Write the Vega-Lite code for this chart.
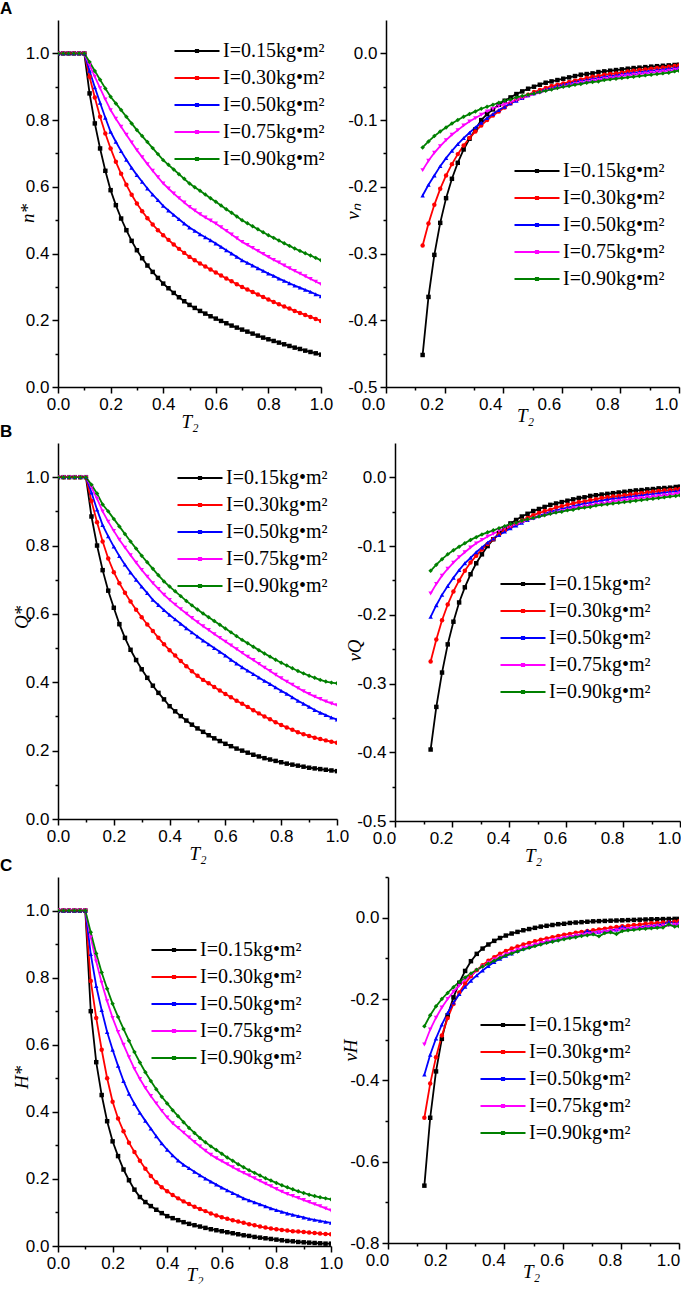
{
"$schema":"https://vega.github.io/schema/vega-lite/v6.json",
"padding":0,
"background":"white",
"spacing":-8,
"resolve":{"scale":{"color":"independent"},"legend":{"color":"independent"}},
"config":{
 "view":{"stroke":null},
 "axis":{"domainColor":"black","domainWidth":1.5,"tickColor":"black","tickWidth":1.5,"grid":false,"labelFont":"Liberation Sans","labelFontSize":17,"labelColor":"black","labelPadding":3,"labelFlush":false,"labelOverlap":false,"titleFont":"Liberation Serif","titleFontStyle":"italic","titleFontWeight":"normal","titleFontSize":19,"titleColor":"black"},
 "axisY":{"titleBaseline":"middle"},
 "title":{"anchor":"start","frame":"group","font":"Liberation Sans","fontSize":17,"fontWeight":"bold","color":"black","offset":2},
 "legend":{"orient":"none","labelFont":"Liberation Serif","labelFontSize":20,"labelColor":"black","symbolSize":324,"symbolStrokeWidth":2,"labelOffset":16,"rowPadding":7,"padding":0}
},
"datasets":{
"A1":[
{"s":"0.15","x":0,"y":1},{"s":"0.15","x":0.02,"y":1},{"s":"0.15","x":0.04,"y":1},{"s":"0.15","x":0.06,"y":1},{"s":"0.15","x":0.08,"y":1},{"s":"0.15","x":0.1,"y":1},
{"s":"0.15","x":0.12,"y":0.88},{"s":"0.15","x":0.14,"y":0.79},{"s":"0.15","x":0.16,"y":0.715},{"s":"0.15","x":0.18,"y":0.648},{"s":"0.15","x":0.2,"y":0.59},
{"s":"0.15","x":0.22,"y":0.545},{"s":"0.15","x":0.24,"y":0.505},{"s":"0.15","x":0.26,"y":0.47},{"s":"0.15","x":0.28,"y":0.438},{"s":"0.15","x":0.3,"y":0.41},
{"s":"0.15","x":0.32,"y":0.386},{"s":"0.15","x":0.34,"y":0.364},{"s":"0.15","x":0.36,"y":0.345},{"s":"0.15","x":0.38,"y":0.327},{"s":"0.15","x":0.4,"y":0.31},
{"s":"0.15","x":0.42,"y":0.296},{"s":"0.15","x":0.44,"y":0.282},{"s":"0.15","x":0.46,"y":0.269},{"s":"0.15","x":0.48,"y":0.257},{"s":"0.15","x":0.5,"y":0.246},
{"s":"0.15","x":0.52,"y":0.237},{"s":"0.15","x":0.54,"y":0.228},{"s":"0.15","x":0.56,"y":0.22},{"s":"0.15","x":0.58,"y":0.212},{"s":"0.15","x":0.6,"y":0.205},
{"s":"0.15","x":0.62,"y":0.198},{"s":"0.15","x":0.64,"y":0.191},{"s":"0.15","x":0.66,"y":0.184},{"s":"0.15","x":0.68,"y":0.178},{"s":"0.15","x":0.7,"y":0.172},
{"s":"0.15","x":0.72,"y":0.166},{"s":"0.15","x":0.74,"y":0.16},{"s":"0.15","x":0.76,"y":0.154},{"s":"0.15","x":0.78,"y":0.148},{"s":"0.15","x":0.8,"y":0.143},
{"s":"0.15","x":0.82,"y":0.138},{"s":"0.15","x":0.84,"y":0.133},{"s":"0.15","x":0.86,"y":0.128},{"s":"0.15","x":0.88,"y":0.123},{"s":"0.15","x":0.9,"y":0.118},
{"s":"0.15","x":0.92,"y":0.114},{"s":"0.15","x":0.94,"y":0.109},{"s":"0.15","x":0.96,"y":0.105},{"s":"0.15","x":0.98,"y":0.101},{"s":"0.15","x":1,"y":0.097},
{"s":"0.30","x":0,"y":1},{"s":"0.30","x":0.02,"y":1},{"s":"0.30","x":0.04,"y":1},{"s":"0.30","x":0.06,"y":1},{"s":"0.30","x":0.08,"y":1},{"s":"0.30","x":0.1,"y":1},
{"s":"0.30","x":0.12,"y":0.93},{"s":"0.30","x":0.14,"y":0.868},{"s":"0.30","x":0.16,"y":0.81},{"s":"0.30","x":0.18,"y":0.76},{"s":"0.30","x":0.2,"y":0.715},
{"s":"0.30","x":0.22,"y":0.675},{"s":"0.30","x":0.24,"y":0.639},{"s":"0.30","x":0.26,"y":0.606},{"s":"0.30","x":0.28,"y":0.576},{"s":"0.30","x":0.3,"y":0.55},
{"s":"0.30","x":0.32,"y":0.527},{"s":"0.30","x":0.34,"y":0.506},{"s":"0.30","x":0.36,"y":0.487},{"s":"0.30","x":0.38,"y":0.47},{"s":"0.30","x":0.4,"y":0.455},
{"s":"0.30","x":0.42,"y":0.441},{"s":"0.30","x":0.44,"y":0.427},{"s":"0.30","x":0.46,"y":0.414},{"s":"0.30","x":0.48,"y":0.402},{"s":"0.30","x":0.5,"y":0.39},
{"s":"0.30","x":0.52,"y":0.38},{"s":"0.30","x":0.54,"y":0.37},{"s":"0.30","x":0.56,"y":0.361},{"s":"0.30","x":0.58,"y":0.352},{"s":"0.30","x":0.6,"y":0.343},
{"s":"0.30","x":0.62,"y":0.334},{"s":"0.30","x":0.64,"y":0.325},{"s":"0.30","x":0.66,"y":0.317},{"s":"0.30","x":0.68,"y":0.308},{"s":"0.30","x":0.7,"y":0.3},
{"s":"0.30","x":0.72,"y":0.292},{"s":"0.30","x":0.74,"y":0.285},{"s":"0.30","x":0.76,"y":0.277},{"s":"0.30","x":0.78,"y":0.27},{"s":"0.30","x":0.8,"y":0.262},
{"s":"0.30","x":0.82,"y":0.255},{"s":"0.30","x":0.84,"y":0.248},{"s":"0.30","x":0.86,"y":0.241},{"s":"0.30","x":0.88,"y":0.235},{"s":"0.30","x":0.9,"y":0.228},
{"s":"0.30","x":0.92,"y":0.222},{"s":"0.30","x":0.94,"y":0.216},{"s":"0.30","x":0.96,"y":0.21},{"s":"0.30","x":0.98,"y":0.204},{"s":"0.30","x":1,"y":0.198},
{"s":"0.50","x":0,"y":1},{"s":"0.50","x":0.02,"y":1},{"s":"0.50","x":0.04,"y":1},{"s":"0.50","x":0.06,"y":1},{"s":"0.50","x":0.08,"y":1},{"s":"0.50","x":0.1,"y":1},
{"s":"0.50","x":0.12,"y":0.948},{"s":"0.50","x":0.14,"y":0.898},{"s":"0.50","x":0.16,"y":0.852},{"s":"0.50","x":0.18,"y":0.807},{"s":"0.50","x":0.2,"y":0.765},
{"s":"0.50","x":0.22,"y":0.735},{"s":"0.50","x":0.24,"y":0.707},{"s":"0.50","x":0.26,"y":0.681},{"s":"0.50","x":0.28,"y":0.657},{"s":"0.50","x":0.3,"y":0.635},
{"s":"0.50","x":0.32,"y":0.615},{"s":"0.50","x":0.34,"y":0.595},{"s":"0.50","x":0.36,"y":0.577},{"s":"0.50","x":0.38,"y":0.56},{"s":"0.50","x":0.4,"y":0.543},
{"s":"0.50","x":0.42,"y":0.529},{"s":"0.50","x":0.44,"y":0.516},{"s":"0.50","x":0.46,"y":0.503},{"s":"0.50","x":0.48,"y":0.49},{"s":"0.50","x":0.5,"y":0.478},
{"s":"0.50","x":0.52,"y":0.468},{"s":"0.50","x":0.54,"y":0.458},{"s":"0.50","x":0.56,"y":0.449},{"s":"0.50","x":0.58,"y":0.44},{"s":"0.50","x":0.6,"y":0.43},
{"s":"0.50","x":0.62,"y":0.42},{"s":"0.50","x":0.64,"y":0.41},{"s":"0.50","x":0.66,"y":0.4},{"s":"0.50","x":0.68,"y":0.39},{"s":"0.50","x":0.7,"y":0.38},
{"s":"0.50","x":0.72,"y":0.372},{"s":"0.50","x":0.74,"y":0.364},{"s":"0.50","x":0.76,"y":0.356},{"s":"0.50","x":0.78,"y":0.348},{"s":"0.50","x":0.8,"y":0.34},
{"s":"0.50","x":0.82,"y":0.333},{"s":"0.50","x":0.84,"y":0.325},{"s":"0.50","x":0.86,"y":0.318},{"s":"0.50","x":0.88,"y":0.311},{"s":"0.50","x":0.9,"y":0.304},
{"s":"0.50","x":0.92,"y":0.298},{"s":"0.50","x":0.94,"y":0.291},{"s":"0.50","x":0.96,"y":0.285},{"s":"0.50","x":0.98,"y":0.278},{"s":"0.50","x":1,"y":0.272},
{"s":"0.75","x":0,"y":1},{"s":"0.75","x":0.02,"y":1},{"s":"0.75","x":0.04,"y":1},{"s":"0.75","x":0.06,"y":1},{"s":"0.75","x":0.08,"y":1},{"s":"0.75","x":0.1,"y":1},
{"s":"0.75","x":0.12,"y":0.965},{"s":"0.75","x":0.14,"y":0.93},{"s":"0.75","x":0.16,"y":0.896},{"s":"0.75","x":0.18,"y":0.862},{"s":"0.75","x":0.2,"y":0.83},
{"s":"0.75","x":0.22,"y":0.804},{"s":"0.75","x":0.24,"y":0.78},{"s":"0.75","x":0.26,"y":0.756},{"s":"0.75","x":0.28,"y":0.733},{"s":"0.75","x":0.3,"y":0.71},
{"s":"0.75","x":0.32,"y":0.689},{"s":"0.75","x":0.34,"y":0.668},{"s":"0.75","x":0.36,"y":0.648},{"s":"0.75","x":0.38,"y":0.629},{"s":"0.75","x":0.4,"y":0.61},
{"s":"0.75","x":0.42,"y":0.595},{"s":"0.75","x":0.44,"y":0.58},{"s":"0.75","x":0.46,"y":0.566},{"s":"0.75","x":0.48,"y":0.553},{"s":"0.75","x":0.5,"y":0.54},
{"s":"0.75","x":0.52,"y":0.529},{"s":"0.75","x":0.54,"y":0.518},{"s":"0.75","x":0.56,"y":0.508},{"s":"0.75","x":0.58,"y":0.499},{"s":"0.75","x":0.6,"y":0.49},
{"s":"0.75","x":0.62,"y":0.479},{"s":"0.75","x":0.64,"y":0.468},{"s":"0.75","x":0.66,"y":0.457},{"s":"0.75","x":0.68,"y":0.446},{"s":"0.75","x":0.7,"y":0.435},
{"s":"0.75","x":0.72,"y":0.426},{"s":"0.75","x":0.74,"y":0.417},{"s":"0.75","x":0.76,"y":0.408},{"s":"0.75","x":0.78,"y":0.399},{"s":"0.75","x":0.8,"y":0.39},
{"s":"0.75","x":0.82,"y":0.381},{"s":"0.75","x":0.84,"y":0.373},{"s":"0.75","x":0.86,"y":0.364},{"s":"0.75","x":0.88,"y":0.356},{"s":"0.75","x":0.9,"y":0.348},
{"s":"0.75","x":0.92,"y":0.34},{"s":"0.75","x":0.94,"y":0.332},{"s":"0.75","x":0.96,"y":0.324},{"s":"0.75","x":0.98,"y":0.316},{"s":"0.75","x":1,"y":0.308},
{"s":"0.90","x":0,"y":1},{"s":"0.90","x":0.02,"y":1},{"s":"0.90","x":0.04,"y":1},{"s":"0.90","x":0.06,"y":1},{"s":"0.90","x":0.08,"y":1},{"s":"0.90","x":0.1,"y":1},
{"s":"0.90","x":0.12,"y":0.974},{"s":"0.90","x":0.14,"y":0.947},{"s":"0.90","x":0.16,"y":0.921},{"s":"0.90","x":0.18,"y":0.895},{"s":"0.90","x":0.2,"y":0.87},
{"s":"0.90","x":0.22,"y":0.85},{"s":"0.90","x":0.24,"y":0.83},{"s":"0.90","x":0.26,"y":0.81},{"s":"0.90","x":0.28,"y":0.79},{"s":"0.90","x":0.3,"y":0.77},
{"s":"0.90","x":0.32,"y":0.752},{"s":"0.90","x":0.34,"y":0.734},{"s":"0.90","x":0.36,"y":0.716},{"s":"0.90","x":0.38,"y":0.698},{"s":"0.90","x":0.4,"y":0.68},
{"s":"0.90","x":0.42,"y":0.666},{"s":"0.90","x":0.44,"y":0.652},{"s":"0.90","x":0.46,"y":0.638},{"s":"0.90","x":0.48,"y":0.624},{"s":"0.90","x":0.5,"y":0.61},
{"s":"0.90","x":0.52,"y":0.599},{"s":"0.90","x":0.54,"y":0.588},{"s":"0.90","x":0.56,"y":0.577},{"s":"0.90","x":0.58,"y":0.566},{"s":"0.90","x":0.6,"y":0.555},
{"s":"0.90","x":0.62,"y":0.544},{"s":"0.90","x":0.64,"y":0.533},{"s":"0.90","x":0.66,"y":0.522},{"s":"0.90","x":0.68,"y":0.511},{"s":"0.90","x":0.7,"y":0.5},
{"s":"0.90","x":0.72,"y":0.491},{"s":"0.90","x":0.74,"y":0.482},{"s":"0.90","x":0.76,"y":0.473},{"s":"0.90","x":0.78,"y":0.464},{"s":"0.90","x":0.8,"y":0.455},
{"s":"0.90","x":0.82,"y":0.447},{"s":"0.90","x":0.84,"y":0.439},{"s":"0.90","x":0.86,"y":0.431},{"s":"0.90","x":0.88,"y":0.423},{"s":"0.90","x":0.9,"y":0.415},
{"s":"0.90","x":0.92,"y":0.408},{"s":"0.90","x":0.94,"y":0.401},{"s":"0.90","x":0.96,"y":0.394},{"s":"0.90","x":0.98,"y":0.387},{"s":"0.90","x":1,"y":0.38}
],
"A2":[
{"s":"0.15","x":0.125,"y":-0.452},{"s":"0.15","x":0.145,"y":-0.365},{"s":"0.15","x":0.165,"y":-0.302},{"s":"0.15","x":0.185,"y":-0.254},{"s":"0.15","x":0.205,"y":-0.217},{"s":"0.15","x":0.225,"y":-0.188},{"s":"0.15","x":0.245,"y":-0.164},{"s":"0.15","x":0.265,"y":-0.144},{"s":"0.15","x":0.285,"y":-0.128},{"s":"0.15","x":0.305,"y":-0.114},
{"s":"0.15","x":0.325,"y":-0.1},{"s":"0.15","x":0.345,"y":-0.091},{"s":"0.15","x":0.365,"y":-0.084},{"s":"0.15","x":0.385,"y":-0.077},{"s":"0.15","x":0.405,"y":-0.071},{"s":"0.15","x":0.425,"y":-0.066},{"s":"0.15","x":0.445,"y":-0.061},{"s":"0.15","x":0.465,"y":-0.057},{"s":"0.15","x":0.485,"y":-0.053},{"s":"0.15","x":0.505,"y":-0.05},
{"s":"0.15","x":0.525,"y":-0.047},{"s":"0.15","x":0.545,"y":-0.044},{"s":"0.15","x":0.565,"y":-0.042},{"s":"0.15","x":0.585,"y":-0.04},{"s":"0.15","x":0.605,"y":-0.038},{"s":"0.15","x":0.625,"y":-0.036},{"s":"0.15","x":0.645,"y":-0.034},{"s":"0.15","x":0.665,"y":-0.032},{"s":"0.15","x":0.685,"y":-0.031},{"s":"0.15","x":0.705,"y":-0.03},
{"s":"0.15","x":0.725,"y":-0.028},{"s":"0.15","x":0.745,"y":-0.027},{"s":"0.15","x":0.765,"y":-0.026},{"s":"0.15","x":0.785,"y":-0.025},{"s":"0.15","x":0.805,"y":-0.024},{"s":"0.15","x":0.825,"y":-0.023},{"s":"0.15","x":0.845,"y":-0.022},{"s":"0.15","x":0.865,"y":-0.0214},{"s":"0.15","x":0.885,"y":-0.0206},{"s":"0.15","x":0.905,"y":-0.0199},
{"s":"0.15","x":0.925,"y":-0.0192},{"s":"0.15","x":0.945,"y":-0.0186},{"s":"0.15","x":0.965,"y":-0.018},{"s":"0.15","x":0.985,"y":-0.0174},{"s":"0.15","x":1,"y":-0.017},
{"s":"0.30","x":0.125,"y":-0.288},{"s":"0.30","x":0.145,"y":-0.255},{"s":"0.30","x":0.165,"y":-0.227},{"s":"0.30","x":0.185,"y":-0.203},{"s":"0.30","x":0.205,"y":-0.183},{"s":"0.30","x":0.225,"y":-0.166},{"s":"0.30","x":0.245,"y":-0.151},{"s":"0.30","x":0.265,"y":-0.138},{"s":"0.30","x":0.285,"y":-0.127},{"s":"0.30","x":0.305,"y":-0.117},
{"s":"0.30","x":0.325,"y":-0.108},{"s":"0.30","x":0.345,"y":-0.1},{"s":"0.30","x":0.365,"y":-0.093},{"s":"0.30","x":0.385,"y":-0.087},{"s":"0.30","x":0.405,"y":-0.081},{"s":"0.30","x":0.425,"y":-0.075},{"s":"0.30","x":0.445,"y":-0.07},{"s":"0.30","x":0.465,"y":-0.066},{"s":"0.30","x":0.485,"y":-0.062},{"s":"0.30","x":0.505,"y":-0.058},
{"s":"0.30","x":0.525,"y":-0.055},{"s":"0.30","x":0.545,"y":-0.052},{"s":"0.30","x":0.565,"y":-0.049},{"s":"0.30","x":0.585,"y":-0.047},{"s":"0.30","x":0.605,"y":-0.045},{"s":"0.30","x":0.625,"y":-0.043},{"s":"0.30","x":0.645,"y":-0.041},{"s":"0.30","x":0.665,"y":-0.039},{"s":"0.30","x":0.685,"y":-0.037},{"s":"0.30","x":0.705,"y":-0.035},
{"s":"0.30","x":0.725,"y":-0.034},{"s":"0.30","x":0.745,"y":-0.032},{"s":"0.30","x":0.765,"y":-0.031},{"s":"0.30","x":0.785,"y":-0.03},{"s":"0.30","x":0.805,"y":-0.029},{"s":"0.30","x":0.825,"y":-0.027},{"s":"0.30","x":0.845,"y":-0.026},{"s":"0.30","x":0.865,"y":-0.025},{"s":"0.30","x":0.885,"y":-0.024},{"s":"0.30","x":0.905,"y":-0.023},
{"s":"0.30","x":0.925,"y":-0.022},{"s":"0.30","x":0.945,"y":-0.021},{"s":"0.30","x":0.965,"y":-0.02},{"s":"0.30","x":0.985,"y":-0.019},{"s":"0.30","x":1,"y":-0.018},
{"s":"0.50","x":0.125,"y":-0.213},{"s":"0.50","x":0.145,"y":-0.197},{"s":"0.50","x":0.165,"y":-0.183},{"s":"0.50","x":0.185,"y":-0.169},{"s":"0.50","x":0.205,"y":-0.157},{"s":"0.50","x":0.225,"y":-0.146},{"s":"0.50","x":0.245,"y":-0.136},{"s":"0.50","x":0.265,"y":-0.127},{"s":"0.50","x":0.285,"y":-0.119},{"s":"0.50","x":0.305,"y":-0.111},
{"s":"0.50","x":0.325,"y":-0.104},{"s":"0.50","x":0.345,"y":-0.097},{"s":"0.50","x":0.365,"y":-0.091},{"s":"0.50","x":0.385,"y":-0.085},{"s":"0.50","x":0.405,"y":-0.08},{"s":"0.50","x":0.425,"y":-0.075},{"s":"0.50","x":0.445,"y":-0.071},{"s":"0.50","x":0.465,"y":-0.067},{"s":"0.50","x":0.485,"y":-0.063},{"s":"0.50","x":0.505,"y":-0.06},
{"s":"0.50","x":0.525,"y":-0.057},{"s":"0.50","x":0.545,"y":-0.054},{"s":"0.50","x":0.565,"y":-0.052},{"s":"0.50","x":0.585,"y":-0.049},{"s":"0.50","x":0.605,"y":-0.047},{"s":"0.50","x":0.625,"y":-0.045},{"s":"0.50","x":0.645,"y":-0.043},{"s":"0.50","x":0.665,"y":-0.041},{"s":"0.50","x":0.685,"y":-0.04},{"s":"0.50","x":0.705,"y":-0.038},
{"s":"0.50","x":0.725,"y":-0.037},{"s":"0.50","x":0.745,"y":-0.035},{"s":"0.50","x":0.765,"y":-0.034},{"s":"0.50","x":0.785,"y":-0.033},{"s":"0.50","x":0.805,"y":-0.031},{"s":"0.50","x":0.825,"y":-0.03},{"s":"0.50","x":0.845,"y":-0.029},{"s":"0.50","x":0.865,"y":-0.028},{"s":"0.50","x":0.885,"y":-0.027},{"s":"0.50","x":0.905,"y":-0.026},
{"s":"0.50","x":0.925,"y":-0.025},{"s":"0.50","x":0.945,"y":-0.024},{"s":"0.50","x":0.965,"y":-0.023},{"s":"0.50","x":0.985,"y":-0.022},{"s":"0.50","x":1,"y":-0.021},
{"s":"0.75","x":0.125,"y":-0.175},{"s":"0.75","x":0.145,"y":-0.161},{"s":"0.75","x":0.165,"y":-0.149},{"s":"0.75","x":0.185,"y":-0.139},{"s":"0.75","x":0.205,"y":-0.13},{"s":"0.75","x":0.225,"y":-0.122},{"s":"0.75","x":0.245,"y":-0.115},{"s":"0.75","x":0.265,"y":-0.108},{"s":"0.75","x":0.285,"y":-0.102},{"s":"0.75","x":0.305,"y":-0.097},
{"s":"0.75","x":0.325,"y":-0.092},{"s":"0.75","x":0.345,"y":-0.087},{"s":"0.75","x":0.365,"y":-0.083},{"s":"0.75","x":0.385,"y":-0.079},{"s":"0.75","x":0.405,"y":-0.076},{"s":"0.75","x":0.425,"y":-0.073},{"s":"0.75","x":0.445,"y":-0.07},{"s":"0.75","x":0.465,"y":-0.067},{"s":"0.75","x":0.485,"y":-0.064},{"s":"0.75","x":0.505,"y":-0.061},
{"s":"0.75","x":0.525,"y":-0.059},{"s":"0.75","x":0.545,"y":-0.056},{"s":"0.75","x":0.565,"y":-0.054},{"s":"0.75","x":0.585,"y":-0.052},{"s":"0.75","x":0.605,"y":-0.05},{"s":"0.75","x":0.625,"y":-0.048},{"s":"0.75","x":0.645,"y":-0.046},{"s":"0.75","x":0.665,"y":-0.044},{"s":"0.75","x":0.685,"y":-0.043},{"s":"0.75","x":0.705,"y":-0.041},
{"s":"0.75","x":0.725,"y":-0.04},{"s":"0.75","x":0.745,"y":-0.038},{"s":"0.75","x":0.765,"y":-0.037},{"s":"0.75","x":0.785,"y":-0.036},{"s":"0.75","x":0.805,"y":-0.034},{"s":"0.75","x":0.825,"y":-0.033},{"s":"0.75","x":0.845,"y":-0.032},{"s":"0.75","x":0.865,"y":-0.031},{"s":"0.75","x":0.885,"y":-0.03},{"s":"0.75","x":0.905,"y":-0.029},
{"s":"0.75","x":0.925,"y":-0.028},{"s":"0.75","x":0.945,"y":-0.027},{"s":"0.75","x":0.965,"y":-0.026},{"s":"0.75","x":0.985,"y":-0.025},{"s":"0.75","x":1,"y":-0.024},
{"s":"0.90","x":0.125,"y":-0.141},{"s":"0.90","x":0.145,"y":-0.132},{"s":"0.90","x":0.165,"y":-0.124},{"s":"0.90","x":0.185,"y":-0.117},{"s":"0.90","x":0.205,"y":-0.111},{"s":"0.90","x":0.225,"y":-0.105},{"s":"0.90","x":0.245,"y":-0.1},{"s":"0.90","x":0.265,"y":-0.095},{"s":"0.90","x":0.285,"y":-0.091},{"s":"0.90","x":0.305,"y":-0.087},
{"s":"0.90","x":0.325,"y":-0.083},{"s":"0.90","x":0.345,"y":-0.08},{"s":"0.90","x":0.365,"y":-0.077},{"s":"0.90","x":0.385,"y":-0.074},{"s":"0.90","x":0.405,"y":-0.071},{"s":"0.90","x":0.425,"y":-0.069},{"s":"0.90","x":0.445,"y":-0.066},{"s":"0.90","x":0.465,"y":-0.064},{"s":"0.90","x":0.485,"y":-0.062},{"s":"0.90","x":0.505,"y":-0.06},
{"s":"0.90","x":0.525,"y":-0.058},{"s":"0.90","x":0.545,"y":-0.056},{"s":"0.90","x":0.565,"y":-0.054},{"s":"0.90","x":0.585,"y":-0.052},{"s":"0.90","x":0.605,"y":-0.05},{"s":"0.90","x":0.625,"y":-0.049},{"s":"0.90","x":0.645,"y":-0.047},{"s":"0.90","x":0.665,"y":-0.046},{"s":"0.90","x":0.685,"y":-0.044},{"s":"0.90","x":0.705,"y":-0.043},
{"s":"0.90","x":0.725,"y":-0.042},{"s":"0.90","x":0.745,"y":-0.04},{"s":"0.90","x":0.765,"y":-0.039},{"s":"0.90","x":0.785,"y":-0.038},{"s":"0.90","x":0.805,"y":-0.037},{"s":"0.90","x":0.825,"y":-0.036},{"s":"0.90","x":0.845,"y":-0.035},{"s":"0.90","x":0.865,"y":-0.034},{"s":"0.90","x":0.885,"y":-0.033},{"s":"0.90","x":0.905,"y":-0.032},
{"s":"0.90","x":0.925,"y":-0.031},{"s":"0.90","x":0.945,"y":-0.03},{"s":"0.90","x":0.965,"y":-0.029},{"s":"0.90","x":0.985,"y":-0.027},{"s":"0.90","x":1,"y":-0.026}
],
"B1":[
{"s":"0.15","x":0,"y":1},{"s":"0.15","x":0.02,"y":1},{"s":"0.15","x":0.04,"y":1},{"s":"0.15","x":0.06,"y":1},{"s":"0.15","x":0.08,"y":1},{"s":"0.15","x":0.1,"y":1},
{"s":"0.15","x":0.12,"y":0.885},{"s":"0.15","x":0.14,"y":0.8},{"s":"0.15","x":0.16,"y":0.728},{"s":"0.15","x":0.18,"y":0.668},{"s":"0.15","x":0.2,"y":0.618},
{"s":"0.15","x":0.22,"y":0.57},{"s":"0.15","x":0.24,"y":0.53},{"s":"0.15","x":0.26,"y":0.495},{"s":"0.15","x":0.28,"y":0.465},{"s":"0.15","x":0.3,"y":0.438},
{"s":"0.15","x":0.32,"y":0.413},{"s":"0.15","x":0.34,"y":0.39},{"s":"0.15","x":0.36,"y":0.369},{"s":"0.15","x":0.38,"y":0.35},{"s":"0.15","x":0.4,"y":0.33},
{"s":"0.15","x":0.42,"y":0.315},{"s":"0.15","x":0.44,"y":0.301},{"s":"0.15","x":0.46,"y":0.288},{"s":"0.15","x":0.48,"y":0.276},{"s":"0.15","x":0.5,"y":0.265},
{"s":"0.15","x":0.52,"y":0.255},{"s":"0.15","x":0.54,"y":0.245},{"s":"0.15","x":0.56,"y":0.236},{"s":"0.15","x":0.58,"y":0.228},{"s":"0.15","x":0.6,"y":0.22},
{"s":"0.15","x":0.62,"y":0.213},{"s":"0.15","x":0.64,"y":0.206},{"s":"0.15","x":0.66,"y":0.2},{"s":"0.15","x":0.68,"y":0.194},{"s":"0.15","x":0.7,"y":0.188},
{"s":"0.15","x":0.72,"y":0.183},{"s":"0.15","x":0.74,"y":0.178},{"s":"0.15","x":0.76,"y":0.174},{"s":"0.15","x":0.78,"y":0.17},{"s":"0.15","x":0.8,"y":0.166},
{"s":"0.15","x":0.82,"y":0.162},{"s":"0.15","x":0.84,"y":0.159},{"s":"0.15","x":0.86,"y":0.156},{"s":"0.15","x":0.88,"y":0.153},{"s":"0.15","x":0.9,"y":0.15},
{"s":"0.15","x":0.92,"y":0.148},{"s":"0.15","x":0.94,"y":0.146},{"s":"0.15","x":0.96,"y":0.144},{"s":"0.15","x":0.98,"y":0.142},{"s":"0.15","x":1,"y":0.14},
{"s":"0.30","x":0,"y":1},{"s":"0.30","x":0.02,"y":1},{"s":"0.30","x":0.04,"y":1},{"s":"0.30","x":0.06,"y":1},{"s":"0.30","x":0.08,"y":1},{"s":"0.30","x":0.1,"y":1},
{"s":"0.30","x":0.12,"y":0.93},{"s":"0.30","x":0.14,"y":0.868},{"s":"0.30","x":0.16,"y":0.812},{"s":"0.30","x":0.18,"y":0.762},{"s":"0.30","x":0.2,"y":0.722},
{"s":"0.30","x":0.22,"y":0.69},{"s":"0.30","x":0.24,"y":0.662},{"s":"0.30","x":0.26,"y":0.636},{"s":"0.30","x":0.28,"y":0.612},{"s":"0.30","x":0.3,"y":0.59},
{"s":"0.30","x":0.32,"y":0.569},{"s":"0.30","x":0.34,"y":0.55},{"s":"0.30","x":0.36,"y":0.53},{"s":"0.30","x":0.38,"y":0.511},{"s":"0.30","x":0.4,"y":0.494},
{"s":"0.30","x":0.42,"y":0.478},{"s":"0.30","x":0.44,"y":0.462},{"s":"0.30","x":0.46,"y":0.447},{"s":"0.30","x":0.48,"y":0.432},{"s":"0.30","x":0.5,"y":0.419},
{"s":"0.30","x":0.52,"y":0.407},{"s":"0.30","x":0.54,"y":0.397},{"s":"0.30","x":0.56,"y":0.386},{"s":"0.30","x":0.58,"y":0.376},{"s":"0.30","x":0.6,"y":0.366},
{"s":"0.30","x":0.62,"y":0.356},{"s":"0.30","x":0.64,"y":0.346},{"s":"0.30","x":0.66,"y":0.337},{"s":"0.30","x":0.68,"y":0.328},{"s":"0.30","x":0.7,"y":0.318},
{"s":"0.30","x":0.72,"y":0.309},{"s":"0.30","x":0.74,"y":0.3},{"s":"0.30","x":0.76,"y":0.292},{"s":"0.30","x":0.78,"y":0.283},{"s":"0.30","x":0.8,"y":0.275},
{"s":"0.30","x":0.82,"y":0.268},{"s":"0.30","x":0.84,"y":0.261},{"s":"0.30","x":0.86,"y":0.254},{"s":"0.30","x":0.88,"y":0.248},{"s":"0.30","x":0.9,"y":0.243},
{"s":"0.30","x":0.92,"y":0.238},{"s":"0.30","x":0.94,"y":0.234},{"s":"0.30","x":0.96,"y":0.23},{"s":"0.30","x":0.98,"y":0.226},{"s":"0.30","x":1,"y":0.223},
{"s":"0.50","x":0,"y":1},{"s":"0.50","x":0.02,"y":1},{"s":"0.50","x":0.04,"y":1},{"s":"0.50","x":0.06,"y":1},{"s":"0.50","x":0.08,"y":1},{"s":"0.50","x":0.1,"y":1},
{"s":"0.50","x":0.12,"y":0.955},{"s":"0.50","x":0.14,"y":0.905},{"s":"0.50","x":0.16,"y":0.86},{"s":"0.50","x":0.18,"y":0.827},{"s":"0.50","x":0.2,"y":0.797},
{"s":"0.50","x":0.22,"y":0.769},{"s":"0.50","x":0.24,"y":0.744},{"s":"0.50","x":0.26,"y":0.721},{"s":"0.50","x":0.28,"y":0.7},{"s":"0.50","x":0.3,"y":0.68},
{"s":"0.50","x":0.32,"y":0.661},{"s":"0.50","x":0.34,"y":0.641},{"s":"0.50","x":0.36,"y":0.626},{"s":"0.50","x":0.38,"y":0.611},{"s":"0.50","x":0.4,"y":0.597},
{"s":"0.50","x":0.42,"y":0.584},{"s":"0.50","x":0.44,"y":0.571},{"s":"0.50","x":0.46,"y":0.558},{"s":"0.50","x":0.48,"y":0.546},{"s":"0.50","x":0.5,"y":0.534},
{"s":"0.50","x":0.52,"y":0.522},{"s":"0.50","x":0.54,"y":0.511},{"s":"0.50","x":0.56,"y":0.5},{"s":"0.50","x":0.58,"y":0.489},{"s":"0.50","x":0.6,"y":0.478},
{"s":"0.50","x":0.62,"y":0.466},{"s":"0.50","x":0.64,"y":0.455},{"s":"0.50","x":0.66,"y":0.444},{"s":"0.50","x":0.68,"y":0.434},{"s":"0.50","x":0.7,"y":0.424},
{"s":"0.50","x":0.72,"y":0.414},{"s":"0.50","x":0.74,"y":0.404},{"s":"0.50","x":0.76,"y":0.395},{"s":"0.50","x":0.78,"y":0.385},{"s":"0.50","x":0.8,"y":0.375},
{"s":"0.50","x":0.82,"y":0.366},{"s":"0.50","x":0.84,"y":0.356},{"s":"0.50","x":0.86,"y":0.346},{"s":"0.50","x":0.88,"y":0.337},{"s":"0.50","x":0.9,"y":0.328},
{"s":"0.50","x":0.92,"y":0.319},{"s":"0.50","x":0.94,"y":0.311},{"s":"0.50","x":0.96,"y":0.304},{"s":"0.50","x":0.98,"y":0.297},{"s":"0.50","x":1,"y":0.291},
{"s":"0.75","x":0,"y":1},{"s":"0.75","x":0.02,"y":1},{"s":"0.75","x":0.04,"y":1},{"s":"0.75","x":0.06,"y":1},{"s":"0.75","x":0.08,"y":1},{"s":"0.75","x":0.1,"y":1},
{"s":"0.75","x":0.12,"y":0.97},{"s":"0.75","x":0.14,"y":0.937},{"s":"0.75","x":0.16,"y":0.9},{"s":"0.75","x":0.18,"y":0.87},{"s":"0.75","x":0.2,"y":0.843},
{"s":"0.75","x":0.22,"y":0.817},{"s":"0.75","x":0.24,"y":0.794},{"s":"0.75","x":0.26,"y":0.772},{"s":"0.75","x":0.28,"y":0.75},{"s":"0.75","x":0.3,"y":0.729},
{"s":"0.75","x":0.32,"y":0.709},{"s":"0.75","x":0.34,"y":0.69},{"s":"0.75","x":0.36,"y":0.673},{"s":"0.75","x":0.38,"y":0.656},{"s":"0.75","x":0.4,"y":0.641},
{"s":"0.75","x":0.42,"y":0.627},{"s":"0.75","x":0.44,"y":0.614},{"s":"0.75","x":0.46,"y":0.601},{"s":"0.75","x":0.48,"y":0.588},{"s":"0.75","x":0.5,"y":0.576},
{"s":"0.75","x":0.52,"y":0.564},{"s":"0.75","x":0.54,"y":0.553},{"s":"0.75","x":0.56,"y":0.541},{"s":"0.75","x":0.58,"y":0.53},{"s":"0.75","x":0.6,"y":0.519},
{"s":"0.75","x":0.62,"y":0.508},{"s":"0.75","x":0.64,"y":0.497},{"s":"0.75","x":0.66,"y":0.486},{"s":"0.75","x":0.68,"y":0.475},{"s":"0.75","x":0.7,"y":0.465},
{"s":"0.75","x":0.72,"y":0.454},{"s":"0.75","x":0.74,"y":0.443},{"s":"0.75","x":0.76,"y":0.433},{"s":"0.75","x":0.78,"y":0.422},{"s":"0.75","x":0.8,"y":0.412},
{"s":"0.75","x":0.82,"y":0.402},{"s":"0.75","x":0.84,"y":0.393},{"s":"0.75","x":0.86,"y":0.383},{"s":"0.75","x":0.88,"y":0.374},{"s":"0.75","x":0.9,"y":0.366},
{"s":"0.75","x":0.92,"y":0.358},{"s":"0.75","x":0.94,"y":0.351},{"s":"0.75","x":0.96,"y":0.344},{"s":"0.75","x":0.98,"y":0.338},{"s":"0.75","x":1,"y":0.333},
{"s":"0.90","x":0,"y":1},{"s":"0.90","x":0.02,"y":1},{"s":"0.90","x":0.04,"y":1},{"s":"0.90","x":0.06,"y":1},{"s":"0.90","x":0.08,"y":1},{"s":"0.90","x":0.1,"y":1},
{"s":"0.90","x":0.12,"y":0.978},{"s":"0.90","x":0.14,"y":0.952},{"s":"0.90","x":0.16,"y":0.92},{"s":"0.90","x":0.18,"y":0.9},{"s":"0.90","x":0.2,"y":0.878},
{"s":"0.90","x":0.22,"y":0.856},{"s":"0.90","x":0.24,"y":0.834},{"s":"0.90","x":0.26,"y":0.812},{"s":"0.90","x":0.28,"y":0.791},{"s":"0.90","x":0.3,"y":0.77},
{"s":"0.90","x":0.32,"y":0.751},{"s":"0.90","x":0.34,"y":0.732},{"s":"0.90","x":0.36,"y":0.713},{"s":"0.90","x":0.38,"y":0.695},{"s":"0.90","x":0.4,"y":0.68},
{"s":"0.90","x":0.42,"y":0.666},{"s":"0.90","x":0.44,"y":0.652},{"s":"0.90","x":0.46,"y":0.638},{"s":"0.90","x":0.48,"y":0.625},{"s":"0.90","x":0.5,"y":0.613},
{"s":"0.90","x":0.52,"y":0.601},{"s":"0.90","x":0.54,"y":0.59},{"s":"0.90","x":0.56,"y":0.579},{"s":"0.90","x":0.58,"y":0.568},{"s":"0.90","x":0.6,"y":0.557},
{"s":"0.90","x":0.62,"y":0.546},{"s":"0.90","x":0.64,"y":0.535},{"s":"0.90","x":0.66,"y":0.524},{"s":"0.90","x":0.68,"y":0.514},{"s":"0.90","x":0.7,"y":0.504},
{"s":"0.90","x":0.72,"y":0.494},{"s":"0.90","x":0.74,"y":0.484},{"s":"0.90","x":0.76,"y":0.475},{"s":"0.90","x":0.78,"y":0.466},{"s":"0.90","x":0.8,"y":0.457},
{"s":"0.90","x":0.82,"y":0.449},{"s":"0.90","x":0.84,"y":0.441},{"s":"0.90","x":0.86,"y":0.433},{"s":"0.90","x":0.88,"y":0.426},{"s":"0.90","x":0.9,"y":0.419},
{"s":"0.90","x":0.92,"y":0.413},{"s":"0.90","x":0.94,"y":0.407},{"s":"0.90","x":0.96,"y":0.402},{"s":"0.90","x":0.98,"y":0.399},{"s":"0.90","x":1,"y":0.397}
],
"B2":[
{"s":"0.15","x":0.125,"y":-0.396},{"s":"0.15","x":0.145,"y":-0.334},{"s":"0.15","x":0.165,"y":-0.284},{"s":"0.15","x":0.185,"y":-0.243},{"s":"0.15","x":0.205,"y":-0.21},{"s":"0.15","x":0.225,"y":-0.182},{"s":"0.15","x":0.245,"y":-0.16},{"s":"0.15","x":0.265,"y":-0.141},{"s":"0.15","x":0.285,"y":-0.125},{"s":"0.15","x":0.305,"y":-0.112},
{"s":"0.15","x":0.325,"y":-0.1},{"s":"0.15","x":0.345,"y":-0.09},{"s":"0.15","x":0.365,"y":-0.081},{"s":"0.15","x":0.385,"y":-0.074},{"s":"0.15","x":0.405,"y":-0.067},{"s":"0.15","x":0.425,"y":-0.062},{"s":"0.15","x":0.445,"y":-0.057},{"s":"0.15","x":0.465,"y":-0.053},{"s":"0.15","x":0.485,"y":-0.049},{"s":"0.15","x":0.505,"y":-0.046},
{"s":"0.15","x":0.525,"y":-0.043},{"s":"0.15","x":0.545,"y":-0.04},{"s":"0.15","x":0.565,"y":-0.038},{"s":"0.15","x":0.585,"y":-0.036},{"s":"0.15","x":0.605,"y":-0.034},{"s":"0.15","x":0.625,"y":-0.032},{"s":"0.15","x":0.645,"y":-0.03},{"s":"0.15","x":0.665,"y":-0.029},{"s":"0.15","x":0.685,"y":-0.027},{"s":"0.15","x":0.705,"y":-0.026},
{"s":"0.15","x":0.725,"y":-0.025},{"s":"0.15","x":0.745,"y":-0.024},{"s":"0.15","x":0.765,"y":-0.023},{"s":"0.15","x":0.785,"y":-0.022},{"s":"0.15","x":0.805,"y":-0.021},{"s":"0.15","x":0.825,"y":-0.02},{"s":"0.15","x":0.845,"y":-0.019},{"s":"0.15","x":0.865,"y":-0.0185},{"s":"0.15","x":0.885,"y":-0.0175},{"s":"0.15","x":0.905,"y":-0.017},
{"s":"0.15","x":0.925,"y":-0.016},{"s":"0.15","x":0.945,"y":-0.0155},{"s":"0.15","x":0.965,"y":-0.015},{"s":"0.15","x":0.985,"y":-0.014},{"s":"0.15","x":1,"y":-0.0135},
{"s":"0.30","x":0.125,"y":-0.268},{"s":"0.30","x":0.145,"y":-0.236},{"s":"0.30","x":0.165,"y":-0.208},{"s":"0.30","x":0.185,"y":-0.185},{"s":"0.30","x":0.205,"y":-0.166},{"s":"0.30","x":0.225,"y":-0.15},{"s":"0.30","x":0.245,"y":-0.136},{"s":"0.30","x":0.265,"y":-0.124},{"s":"0.30","x":0.285,"y":-0.114},{"s":"0.30","x":0.305,"y":-0.105},
{"s":"0.30","x":0.325,"y":-0.097},{"s":"0.30","x":0.345,"y":-0.09},{"s":"0.30","x":0.365,"y":-0.083},{"s":"0.30","x":0.385,"y":-0.077},{"s":"0.30","x":0.405,"y":-0.072},{"s":"0.30","x":0.425,"y":-0.067},{"s":"0.30","x":0.445,"y":-0.063},{"s":"0.30","x":0.465,"y":-0.059},{"s":"0.30","x":0.485,"y":-0.055},{"s":"0.30","x":0.505,"y":-0.052},
{"s":"0.30","x":0.525,"y":-0.049},{"s":"0.30","x":0.545,"y":-0.047},{"s":"0.30","x":0.565,"y":-0.044},{"s":"0.30","x":0.585,"y":-0.042},{"s":"0.30","x":0.605,"y":-0.04},{"s":"0.30","x":0.625,"y":-0.038},{"s":"0.30","x":0.645,"y":-0.036},{"s":"0.30","x":0.665,"y":-0.035},{"s":"0.30","x":0.685,"y":-0.033},{"s":"0.30","x":0.705,"y":-0.032},
{"s":"0.30","x":0.725,"y":-0.03},{"s":"0.30","x":0.745,"y":-0.029},{"s":"0.30","x":0.765,"y":-0.028},{"s":"0.30","x":0.785,"y":-0.027},{"s":"0.30","x":0.805,"y":-0.026},{"s":"0.30","x":0.825,"y":-0.025},{"s":"0.30","x":0.845,"y":-0.024},{"s":"0.30","x":0.865,"y":-0.023},{"s":"0.30","x":0.885,"y":-0.022},{"s":"0.30","x":0.905,"y":-0.021},
{"s":"0.30","x":0.925,"y":-0.02},{"s":"0.30","x":0.945,"y":-0.019},{"s":"0.30","x":0.965,"y":-0.0185},{"s":"0.30","x":0.985,"y":-0.0178},{"s":"0.30","x":1,"y":-0.017},
{"s":"0.50","x":0.125,"y":-0.203},{"s":"0.50","x":0.145,"y":-0.186},{"s":"0.50","x":0.165,"y":-0.171},{"s":"0.50","x":0.185,"y":-0.158},{"s":"0.50","x":0.205,"y":-0.146},{"s":"0.50","x":0.225,"y":-0.135},{"s":"0.50","x":0.245,"y":-0.125},{"s":"0.50","x":0.265,"y":-0.117},{"s":"0.50","x":0.285,"y":-0.109},{"s":"0.50","x":0.305,"y":-0.102},
{"s":"0.50","x":0.325,"y":-0.095},{"s":"0.50","x":0.345,"y":-0.089},{"s":"0.50","x":0.365,"y":-0.084},{"s":"0.50","x":0.385,"y":-0.079},{"s":"0.50","x":0.405,"y":-0.074},{"s":"0.50","x":0.425,"y":-0.07},{"s":"0.50","x":0.445,"y":-0.066},{"s":"0.50","x":0.465,"y":-0.062},{"s":"0.50","x":0.485,"y":-0.059},{"s":"0.50","x":0.505,"y":-0.056},
{"s":"0.50","x":0.525,"y":-0.053},{"s":"0.50","x":0.545,"y":-0.05},{"s":"0.50","x":0.565,"y":-0.048},{"s":"0.50","x":0.585,"y":-0.046},{"s":"0.50","x":0.605,"y":-0.044},{"s":"0.50","x":0.625,"y":-0.042},{"s":"0.50","x":0.645,"y":-0.04},{"s":"0.50","x":0.665,"y":-0.038},{"s":"0.50","x":0.685,"y":-0.037},{"s":"0.50","x":0.705,"y":-0.035},
{"s":"0.50","x":0.725,"y":-0.034},{"s":"0.50","x":0.745,"y":-0.032},{"s":"0.50","x":0.765,"y":-0.031},{"s":"0.50","x":0.785,"y":-0.03},{"s":"0.50","x":0.805,"y":-0.029},{"s":"0.50","x":0.825,"y":-0.028},{"s":"0.50","x":0.845,"y":-0.027},{"s":"0.50","x":0.865,"y":-0.026},{"s":"0.50","x":0.885,"y":-0.025},{"s":"0.50","x":0.905,"y":-0.024},
{"s":"0.50","x":0.925,"y":-0.023},{"s":"0.50","x":0.945,"y":-0.022},{"s":"0.50","x":0.965,"y":-0.021},{"s":"0.50","x":0.985,"y":-0.02},{"s":"0.50","x":1,"y":-0.019},
{"s":"0.75","x":0.125,"y":-0.169},{"s":"0.75","x":0.145,"y":-0.155},{"s":"0.75","x":0.165,"y":-0.143},{"s":"0.75","x":0.185,"y":-0.133},{"s":"0.75","x":0.205,"y":-0.124},{"s":"0.75","x":0.225,"y":-0.116},{"s":"0.75","x":0.245,"y":-0.109},{"s":"0.75","x":0.265,"y":-0.102},{"s":"0.75","x":0.285,"y":-0.096},{"s":"0.75","x":0.305,"y":-0.091},
{"s":"0.75","x":0.325,"y":-0.086},{"s":"0.75","x":0.345,"y":-0.082},{"s":"0.75","x":0.365,"y":-0.078},{"s":"0.75","x":0.385,"y":-0.074},{"s":"0.75","x":0.405,"y":-0.071},{"s":"0.75","x":0.425,"y":-0.068},{"s":"0.75","x":0.445,"y":-0.065},{"s":"0.75","x":0.465,"y":-0.062},{"s":"0.75","x":0.485,"y":-0.06},{"s":"0.75","x":0.505,"y":-0.057},
{"s":"0.75","x":0.525,"y":-0.055},{"s":"0.75","x":0.545,"y":-0.053},{"s":"0.75","x":0.565,"y":-0.051},{"s":"0.75","x":0.585,"y":-0.049},{"s":"0.75","x":0.605,"y":-0.047},{"s":"0.75","x":0.625,"y":-0.045},{"s":"0.75","x":0.645,"y":-0.044},{"s":"0.75","x":0.665,"y":-0.042},{"s":"0.75","x":0.685,"y":-0.041},{"s":"0.75","x":0.705,"y":-0.039},
{"s":"0.75","x":0.725,"y":-0.038},{"s":"0.75","x":0.745,"y":-0.037},{"s":"0.75","x":0.765,"y":-0.035},{"s":"0.75","x":0.785,"y":-0.034},{"s":"0.75","x":0.805,"y":-0.033},{"s":"0.75","x":0.825,"y":-0.032},{"s":"0.75","x":0.845,"y":-0.031},{"s":"0.75","x":0.865,"y":-0.03},{"s":"0.75","x":0.885,"y":-0.029},{"s":"0.75","x":0.905,"y":-0.028},
{"s":"0.75","x":0.925,"y":-0.027},{"s":"0.75","x":0.945,"y":-0.026},{"s":"0.75","x":0.965,"y":-0.025},{"s":"0.75","x":0.985,"y":-0.024},{"s":"0.75","x":1,"y":-0.023},
{"s":"0.90","x":0.125,"y":-0.136},{"s":"0.90","x":0.145,"y":-0.127},{"s":"0.90","x":0.165,"y":-0.119},{"s":"0.90","x":0.185,"y":-0.112},{"s":"0.90","x":0.205,"y":-0.106},{"s":"0.90","x":0.225,"y":-0.101},{"s":"0.90","x":0.245,"y":-0.096},{"s":"0.90","x":0.265,"y":-0.091},{"s":"0.90","x":0.285,"y":-0.087},{"s":"0.90","x":0.305,"y":-0.083},
{"s":"0.90","x":0.325,"y":-0.08},{"s":"0.90","x":0.345,"y":-0.077},{"s":"0.90","x":0.365,"y":-0.074},{"s":"0.90","x":0.385,"y":-0.071},{"s":"0.90","x":0.405,"y":-0.068},{"s":"0.90","x":0.425,"y":-0.066},{"s":"0.90","x":0.445,"y":-0.063},{"s":"0.90","x":0.465,"y":-0.061},{"s":"0.90","x":0.485,"y":-0.059},{"s":"0.90","x":0.505,"y":-0.057},
{"s":"0.90","x":0.525,"y":-0.055},{"s":"0.90","x":0.545,"y":-0.053},{"s":"0.90","x":0.565,"y":-0.051},{"s":"0.90","x":0.585,"y":-0.05},{"s":"0.90","x":0.605,"y":-0.048},{"s":"0.90","x":0.625,"y":-0.047},{"s":"0.90","x":0.645,"y":-0.045},{"s":"0.90","x":0.665,"y":-0.044},{"s":"0.90","x":0.685,"y":-0.043},{"s":"0.90","x":0.705,"y":-0.041},
{"s":"0.90","x":0.725,"y":-0.04},{"s":"0.90","x":0.745,"y":-0.039},{"s":"0.90","x":0.765,"y":-0.038},{"s":"0.90","x":0.785,"y":-0.037},{"s":"0.90","x":0.805,"y":-0.036},{"s":"0.90","x":0.825,"y":-0.035},{"s":"0.90","x":0.845,"y":-0.034},{"s":"0.90","x":0.865,"y":-0.033},{"s":"0.90","x":0.885,"y":-0.032},{"s":"0.90","x":0.905,"y":-0.031},
{"s":"0.90","x":0.925,"y":-0.03},{"s":"0.90","x":0.945,"y":-0.029},{"s":"0.90","x":0.965,"y":-0.028},{"s":"0.90","x":0.985,"y":-0.027},{"s":"0.90","x":1,"y":-0.026}
],
"C1":[
{"s":"0.15","x":0,"y":1},{"s":"0.15","x":0.02,"y":1},{"s":"0.15","x":0.04,"y":1},{"s":"0.15","x":0.06,"y":1},{"s":"0.15","x":0.08,"y":1},{"s":"0.15","x":0.1,"y":1},
{"s":"0.15","x":0.12,"y":0.7},{"s":"0.15","x":0.14,"y":0.548},{"s":"0.15","x":0.16,"y":0.45},{"s":"0.15","x":0.18,"y":0.372},{"s":"0.15","x":0.2,"y":0.312},
{"s":"0.15","x":0.22,"y":0.268},{"s":"0.15","x":0.24,"y":0.228},{"s":"0.15","x":0.26,"y":0.196},{"s":"0.15","x":0.28,"y":0.168},{"s":"0.15","x":0.3,"y":0.146},
{"s":"0.15","x":0.32,"y":0.131},{"s":"0.15","x":0.34,"y":0.119},{"s":"0.15","x":0.36,"y":0.108},{"s":"0.15","x":0.38,"y":0.098},{"s":"0.15","x":0.4,"y":0.089},
{"s":"0.15","x":0.42,"y":0.083},{"s":"0.15","x":0.44,"y":0.077},{"s":"0.15","x":0.46,"y":0.071},{"s":"0.15","x":0.48,"y":0.066},{"s":"0.15","x":0.5,"y":0.062},
{"s":"0.15","x":0.52,"y":0.058},{"s":"0.15","x":0.54,"y":0.054},{"s":"0.15","x":0.56,"y":0.05},{"s":"0.15","x":0.58,"y":0.047},{"s":"0.15","x":0.6,"y":0.044},
{"s":"0.15","x":0.62,"y":0.041},{"s":"0.15","x":0.64,"y":0.038},{"s":"0.15","x":0.66,"y":0.035},{"s":"0.15","x":0.68,"y":0.032},{"s":"0.15","x":0.7,"y":0.03},
{"s":"0.15","x":0.72,"y":0.027},{"s":"0.15","x":0.74,"y":0.025},{"s":"0.15","x":0.76,"y":0.023},{"s":"0.15","x":0.78,"y":0.021},{"s":"0.15","x":0.8,"y":0.019},
{"s":"0.15","x":0.82,"y":0.017},{"s":"0.15","x":0.84,"y":0.015},{"s":"0.15","x":0.86,"y":0.014},{"s":"0.15","x":0.88,"y":0.012},{"s":"0.15","x":0.9,"y":0.011},
{"s":"0.15","x":0.92,"y":0.01},{"s":"0.15","x":0.94,"y":0.009},{"s":"0.15","x":0.96,"y":0.008},{"s":"0.15","x":0.98,"y":0.007},{"s":"0.15","x":1,"y":0.007},
{"s":"0.30","x":0,"y":1},{"s":"0.30","x":0.02,"y":1},{"s":"0.30","x":0.04,"y":1},{"s":"0.30","x":0.06,"y":1},{"s":"0.30","x":0.08,"y":1},{"s":"0.30","x":0.1,"y":1},
{"s":"0.30","x":0.12,"y":0.79},{"s":"0.30","x":0.14,"y":0.68},{"s":"0.30","x":0.16,"y":0.585},{"s":"0.30","x":0.18,"y":0.5},{"s":"0.30","x":0.2,"y":0.43},
{"s":"0.30","x":0.22,"y":0.38},{"s":"0.30","x":0.24,"y":0.342},{"s":"0.30","x":0.26,"y":0.308},{"s":"0.30","x":0.28,"y":0.28},{"s":"0.30","x":0.3,"y":0.254},
{"s":"0.30","x":0.32,"y":0.23},{"s":"0.30","x":0.34,"y":0.209},{"s":"0.30","x":0.36,"y":0.19},{"s":"0.30","x":0.38,"y":0.175},{"s":"0.30","x":0.4,"y":0.163},
{"s":"0.30","x":0.42,"y":0.152},{"s":"0.30","x":0.44,"y":0.142},{"s":"0.30","x":0.46,"y":0.133},{"s":"0.30","x":0.48,"y":0.125},{"s":"0.30","x":0.5,"y":0.117},
{"s":"0.30","x":0.52,"y":0.11},{"s":"0.30","x":0.54,"y":0.104},{"s":"0.30","x":0.56,"y":0.097},{"s":"0.30","x":0.58,"y":0.091},{"s":"0.30","x":0.6,"y":0.086},
{"s":"0.30","x":0.62,"y":0.081},{"s":"0.30","x":0.64,"y":0.077},{"s":"0.30","x":0.66,"y":0.073},{"s":"0.30","x":0.68,"y":0.069},{"s":"0.30","x":0.7,"y":0.065},
{"s":"0.30","x":0.72,"y":0.062},{"s":"0.30","x":0.74,"y":0.058},{"s":"0.30","x":0.76,"y":0.055},{"s":"0.30","x":0.78,"y":0.052},{"s":"0.30","x":0.8,"y":0.05},
{"s":"0.30","x":0.82,"y":0.048},{"s":"0.30","x":0.84,"y":0.046},{"s":"0.30","x":0.86,"y":0.044},{"s":"0.30","x":0.88,"y":0.043},{"s":"0.30","x":0.9,"y":0.042},
{"s":"0.30","x":0.92,"y":0.04},{"s":"0.30","x":0.94,"y":0.039},{"s":"0.30","x":0.96,"y":0.037},{"s":"0.30","x":0.98,"y":0.036},{"s":"0.30","x":1,"y":0.035},
{"s":"0.50","x":0,"y":1},{"s":"0.50","x":0.02,"y":1},{"s":"0.50","x":0.04,"y":1},{"s":"0.50","x":0.06,"y":1},{"s":"0.50","x":0.08,"y":1},{"s":"0.50","x":0.1,"y":1},
{"s":"0.50","x":0.12,"y":0.87},{"s":"0.50","x":0.14,"y":0.775},{"s":"0.50","x":0.16,"y":0.703},{"s":"0.50","x":0.18,"y":0.638},{"s":"0.50","x":0.2,"y":0.585},
{"s":"0.50","x":0.22,"y":0.537},{"s":"0.50","x":0.24,"y":0.492},{"s":"0.50","x":0.26,"y":0.454},{"s":"0.50","x":0.28,"y":0.424},{"s":"0.50","x":0.3,"y":0.397},
{"s":"0.50","x":0.32,"y":0.373},{"s":"0.50","x":0.34,"y":0.35},{"s":"0.50","x":0.36,"y":0.327},{"s":"0.50","x":0.38,"y":0.306},{"s":"0.50","x":0.4,"y":0.287},
{"s":"0.50","x":0.42,"y":0.27},{"s":"0.50","x":0.44,"y":0.255},{"s":"0.50","x":0.46,"y":0.242},{"s":"0.50","x":0.48,"y":0.232},{"s":"0.50","x":0.5,"y":0.221},
{"s":"0.50","x":0.52,"y":0.211},{"s":"0.50","x":0.54,"y":0.201},{"s":"0.50","x":0.56,"y":0.192},{"s":"0.50","x":0.58,"y":0.183},{"s":"0.50","x":0.6,"y":0.174},
{"s":"0.50","x":0.62,"y":0.166},{"s":"0.50","x":0.64,"y":0.158},{"s":"0.50","x":0.66,"y":0.15},{"s":"0.50","x":0.68,"y":0.142},{"s":"0.50","x":0.7,"y":0.136},
{"s":"0.50","x":0.72,"y":0.13},{"s":"0.50","x":0.74,"y":0.124},{"s":"0.50","x":0.76,"y":0.118},{"s":"0.50","x":0.78,"y":0.112},{"s":"0.50","x":0.8,"y":0.107},
{"s":"0.50","x":0.82,"y":0.102},{"s":"0.50","x":0.84,"y":0.097},{"s":"0.50","x":0.86,"y":0.093},{"s":"0.50","x":0.88,"y":0.089},{"s":"0.50","x":0.9,"y":0.085},
{"s":"0.50","x":0.92,"y":0.081},{"s":"0.50","x":0.94,"y":0.078},{"s":"0.50","x":0.96,"y":0.075},{"s":"0.50","x":0.98,"y":0.072},{"s":"0.50","x":1,"y":0.069},
{"s":"0.75","x":0,"y":1},{"s":"0.75","x":0.02,"y":1},{"s":"0.75","x":0.04,"y":1},{"s":"0.75","x":0.06,"y":1},{"s":"0.75","x":0.08,"y":1},{"s":"0.75","x":0.1,"y":1},
{"s":"0.75","x":0.12,"y":0.92},{"s":"0.75","x":0.14,"y":0.848},{"s":"0.75","x":0.16,"y":0.785},{"s":"0.75","x":0.18,"y":0.73},{"s":"0.75","x":0.2,"y":0.68},
{"s":"0.75","x":0.22,"y":0.638},{"s":"0.75","x":0.24,"y":0.6},{"s":"0.75","x":0.26,"y":0.563},{"s":"0.75","x":0.28,"y":0.528},{"s":"0.75","x":0.3,"y":0.498},
{"s":"0.75","x":0.32,"y":0.471},{"s":"0.75","x":0.34,"y":0.447},{"s":"0.75","x":0.36,"y":0.425},{"s":"0.75","x":0.38,"y":0.403},{"s":"0.75","x":0.4,"y":0.383},
{"s":"0.75","x":0.42,"y":0.366},{"s":"0.75","x":0.44,"y":0.352},{"s":"0.75","x":0.46,"y":0.338},{"s":"0.75","x":0.48,"y":0.324},{"s":"0.75","x":0.5,"y":0.31},
{"s":"0.75","x":0.52,"y":0.297},{"s":"0.75","x":0.54,"y":0.284},{"s":"0.75","x":0.56,"y":0.272},{"s":"0.75","x":0.58,"y":0.262},{"s":"0.75","x":0.6,"y":0.253},
{"s":"0.75","x":0.62,"y":0.244},{"s":"0.75","x":0.64,"y":0.235},{"s":"0.75","x":0.66,"y":0.226},{"s":"0.75","x":0.68,"y":0.218},{"s":"0.75","x":0.7,"y":0.21},
{"s":"0.75","x":0.72,"y":0.202},{"s":"0.75","x":0.74,"y":0.194},{"s":"0.75","x":0.76,"y":0.186},{"s":"0.75","x":0.78,"y":0.178},{"s":"0.75","x":0.8,"y":0.17},
{"s":"0.75","x":0.82,"y":0.162},{"s":"0.75","x":0.84,"y":0.155},{"s":"0.75","x":0.86,"y":0.149},{"s":"0.75","x":0.88,"y":0.143},{"s":"0.75","x":0.9,"y":0.137},
{"s":"0.75","x":0.92,"y":0.131},{"s":"0.75","x":0.94,"y":0.125},{"s":"0.75","x":0.96,"y":0.119},{"s":"0.75","x":0.98,"y":0.112},{"s":"0.75","x":1,"y":0.106},
{"s":"0.90","x":0,"y":1},{"s":"0.90","x":0.02,"y":1},{"s":"0.90","x":0.04,"y":1},{"s":"0.90","x":0.06,"y":1},{"s":"0.90","x":0.08,"y":1},{"s":"0.90","x":0.1,"y":1},
{"s":"0.90","x":0.12,"y":0.935},{"s":"0.90","x":0.14,"y":0.872},{"s":"0.90","x":0.16,"y":0.815},{"s":"0.90","x":0.18,"y":0.767},{"s":"0.90","x":0.2,"y":0.722},
{"s":"0.90","x":0.22,"y":0.683},{"s":"0.90","x":0.24,"y":0.647},{"s":"0.90","x":0.26,"y":0.612},{"s":"0.90","x":0.28,"y":0.578},{"s":"0.90","x":0.3,"y":0.547},
{"s":"0.90","x":0.32,"y":0.518},{"s":"0.90","x":0.34,"y":0.492},{"s":"0.90","x":0.36,"y":0.467},{"s":"0.90","x":0.38,"y":0.445},{"s":"0.90","x":0.4,"y":0.425},
{"s":"0.90","x":0.42,"y":0.405},{"s":"0.90","x":0.44,"y":0.387},{"s":"0.90","x":0.46,"y":0.369},{"s":"0.90","x":0.48,"y":0.352},{"s":"0.90","x":0.5,"y":0.337},
{"s":"0.90","x":0.52,"y":0.322},{"s":"0.90","x":0.54,"y":0.309},{"s":"0.90","x":0.56,"y":0.297},{"s":"0.90","x":0.58,"y":0.286},{"s":"0.90","x":0.6,"y":0.275},
{"s":"0.90","x":0.62,"y":0.264},{"s":"0.90","x":0.64,"y":0.254},{"s":"0.90","x":0.66,"y":0.244},{"s":"0.90","x":0.68,"y":0.235},{"s":"0.90","x":0.7,"y":0.226},
{"s":"0.90","x":0.72,"y":0.218},{"s":"0.90","x":0.74,"y":0.21},{"s":"0.90","x":0.76,"y":0.202},{"s":"0.90","x":0.78,"y":0.195},{"s":"0.90","x":0.8,"y":0.188},
{"s":"0.90","x":0.82,"y":0.181},{"s":"0.90","x":0.84,"y":0.175},{"s":"0.90","x":0.86,"y":0.169},{"s":"0.90","x":0.88,"y":0.163},{"s":"0.90","x":0.9,"y":0.158},
{"s":"0.90","x":0.92,"y":0.153},{"s":"0.90","x":0.94,"y":0.149},{"s":"0.90","x":0.96,"y":0.145},{"s":"0.90","x":0.98,"y":0.142},{"s":"0.90","x":1,"y":0.139}
],
"C2":[
{"s":"0.15","x":0.125,"y":-0.659},{"s":"0.15","x":0.145,"y":-0.492},{"s":"0.15","x":0.165,"y":-0.378},{"s":"0.15","x":0.185,"y":-0.298},{"s":"0.15","x":0.205,"y":-0.24},{"s":"0.15","x":0.225,"y":-0.196},{"s":"0.15","x":0.245,"y":-0.16},{"s":"0.15","x":0.265,"y":-0.131},{"s":"0.15","x":0.285,"y":-0.107},{"s":"0.15","x":0.305,"y":-0.089},
{"s":"0.15","x":0.325,"y":-0.076},{"s":"0.15","x":0.345,"y":-0.066},{"s":"0.15","x":0.365,"y":-0.057},{"s":"0.15","x":0.385,"y":-0.05},{"s":"0.15","x":0.405,"y":-0.044},{"s":"0.15","x":0.425,"y":-0.039},{"s":"0.15","x":0.445,"y":-0.035},{"s":"0.15","x":0.465,"y":-0.031},{"s":"0.15","x":0.485,"y":-0.028},{"s":"0.15","x":0.505,"y":-0.025},
{"s":"0.15","x":0.525,"y":-0.022},{"s":"0.15","x":0.545,"y":-0.02},{"s":"0.15","x":0.565,"y":-0.018},{"s":"0.15","x":0.585,"y":-0.016},{"s":"0.15","x":0.605,"y":-0.015},{"s":"0.15","x":0.625,"y":-0.013},{"s":"0.15","x":0.645,"y":-0.012},{"s":"0.15","x":0.665,"y":-0.011},{"s":"0.15","x":0.685,"y":-0.01},{"s":"0.15","x":0.705,"y":-0.009},
{"s":"0.15","x":0.725,"y":-0.0085},{"s":"0.15","x":0.745,"y":-0.008},{"s":"0.15","x":0.765,"y":-0.0075},{"s":"0.15","x":0.785,"y":-0.007},{"s":"0.15","x":0.805,"y":-0.0065},{"s":"0.15","x":0.825,"y":-0.006},{"s":"0.15","x":0.845,"y":-0.0055},{"s":"0.15","x":0.865,"y":-0.005},{"s":"0.15","x":0.885,"y":-0.0045},{"s":"0.15","x":0.905,"y":-0.004},
{"s":"0.15","x":0.925,"y":-0.0038},{"s":"0.15","x":0.945,"y":-0.0035},{"s":"0.15","x":0.965,"y":-0.0032},{"s":"0.15","x":0.985,"y":-0.003},{"s":"0.15","x":1,"y":-0.003},
{"s":"0.30","x":0.125,"y":-0.492},{"s":"0.30","x":0.145,"y":-0.408},{"s":"0.30","x":0.165,"y":-0.343},{"s":"0.30","x":0.185,"y":-0.29},{"s":"0.30","x":0.205,"y":-0.247},{"s":"0.30","x":0.225,"y":-0.212},{"s":"0.30","x":0.245,"y":-0.184},{"s":"0.30","x":0.265,"y":-0.162},{"s":"0.30","x":0.285,"y":-0.144},{"s":"0.30","x":0.305,"y":-0.129},
{"s":"0.30","x":0.325,"y":-0.117},{"s":"0.30","x":0.345,"y":-0.106},{"s":"0.30","x":0.365,"y":-0.097},{"s":"0.30","x":0.385,"y":-0.089},{"s":"0.30","x":0.405,"y":-0.082},{"s":"0.30","x":0.425,"y":-0.076},{"s":"0.30","x":0.445,"y":-0.071},{"s":"0.30","x":0.465,"y":-0.066},{"s":"0.30","x":0.485,"y":-0.062},{"s":"0.30","x":0.505,"y":-0.058},
{"s":"0.30","x":0.525,"y":-0.054},{"s":"0.30","x":0.545,"y":-0.051},{"s":"0.30","x":0.565,"y":-0.048},{"s":"0.30","x":0.585,"y":-0.045},{"s":"0.30","x":0.605,"y":-0.042},{"s":"0.30","x":0.625,"y":-0.04},{"s":"0.30","x":0.645,"y":-0.037},{"s":"0.30","x":0.665,"y":-0.035},{"s":"0.30","x":0.685,"y":-0.033},{"s":"0.30","x":0.705,"y":-0.031},
{"s":"0.30","x":0.725,"y":-0.029},{"s":"0.30","x":0.745,"y":-0.027},{"s":"0.30","x":0.765,"y":-0.025},{"s":"0.30","x":0.785,"y":-0.023},{"s":"0.30","x":0.805,"y":-0.021},{"s":"0.30","x":0.825,"y":-0.02},{"s":"0.30","x":0.845,"y":-0.018},{"s":"0.30","x":0.865,"y":-0.017},{"s":"0.30","x":0.885,"y":-0.015},{"s":"0.30","x":0.905,"y":-0.014},
{"s":"0.30","x":0.925,"y":-0.013},{"s":"0.30","x":0.945,"y":-0.012},{"s":"0.30","x":0.965,"y":-0.011},{"s":"0.30","x":0.985,"y":-0.01},{"s":"0.30","x":1,"y":-0.009},
{"s":"0.50","x":0.125,"y":-0.386},{"s":"0.50","x":0.145,"y":-0.337},{"s":"0.50","x":0.165,"y":-0.297},{"s":"0.50","x":0.185,"y":-0.263},{"s":"0.50","x":0.205,"y":-0.234},{"s":"0.50","x":0.225,"y":-0.209},{"s":"0.50","x":0.245,"y":-0.188},{"s":"0.50","x":0.265,"y":-0.17},{"s":"0.50","x":0.285,"y":-0.155},{"s":"0.50","x":0.305,"y":-0.142},
{"s":"0.50","x":0.325,"y":-0.13},{"s":"0.50","x":0.345,"y":-0.119},{"s":"0.50","x":0.365,"y":-0.109},{"s":"0.50","x":0.385,"y":-0.101},{"s":"0.50","x":0.405,"y":-0.094},{"s":"0.50","x":0.425,"y":-0.088},{"s":"0.50","x":0.445,"y":-0.082},{"s":"0.50","x":0.465,"y":-0.076},{"s":"0.50","x":0.485,"y":-0.072},{"s":"0.50","x":0.505,"y":-0.067},
{"s":"0.50","x":0.525,"y":-0.063},{"s":"0.50","x":0.545,"y":-0.06},{"s":"0.50","x":0.565,"y":-0.056},{"s":"0.50","x":0.585,"y":-0.053},{"s":"0.50","x":0.605,"y":-0.05},{"s":"0.50","x":0.625,"y":-0.046},{"s":"0.50","x":0.645,"y":-0.044},{"s":"0.50","x":0.665,"y":-0.041},{"s":"0.50","x":0.685,"y":-0.032},{"s":"0.50","x":0.705,"y":-0.037},
{"s":"0.50","x":0.725,"y":-0.035},{"s":"0.50","x":0.745,"y":-0.033},{"s":"0.50","x":0.765,"y":-0.031},{"s":"0.50","x":0.785,"y":-0.029},{"s":"0.50","x":0.805,"y":-0.022},{"s":"0.50","x":0.825,"y":-0.027},{"s":"0.50","x":0.845,"y":-0.025},{"s":"0.50","x":0.865,"y":-0.023},{"s":"0.50","x":0.885,"y":-0.021},{"s":"0.50","x":0.905,"y":-0.02},
{"s":"0.50","x":0.925,"y":-0.018},{"s":"0.50","x":0.945,"y":-0.016},{"s":"0.50","x":0.965,"y":-0.01},{"s":"0.50","x":0.985,"y":-0.014},{"s":"0.50","x":1,"y":-0.012},
{"s":"0.75","x":0.125,"y":-0.312},{"s":"0.75","x":0.145,"y":-0.275},{"s":"0.75","x":0.165,"y":-0.246},{"s":"0.75","x":0.185,"y":-0.221},{"s":"0.75","x":0.205,"y":-0.2},{"s":"0.75","x":0.225,"y":-0.182},{"s":"0.75","x":0.245,"y":-0.167},{"s":"0.75","x":0.265,"y":-0.153},{"s":"0.75","x":0.285,"y":-0.141},{"s":"0.75","x":0.305,"y":-0.13},
{"s":"0.75","x":0.325,"y":-0.12},{"s":"0.75","x":0.345,"y":-0.111},{"s":"0.75","x":0.365,"y":-0.103},{"s":"0.75","x":0.385,"y":-0.096},{"s":"0.75","x":0.405,"y":-0.09},{"s":"0.75","x":0.425,"y":-0.084},{"s":"0.75","x":0.445,"y":-0.079},{"s":"0.75","x":0.465,"y":-0.074},{"s":"0.75","x":0.485,"y":-0.07},{"s":"0.75","x":0.505,"y":-0.066},
{"s":"0.75","x":0.525,"y":-0.062},{"s":"0.75","x":0.545,"y":-0.058},{"s":"0.75","x":0.565,"y":-0.055},{"s":"0.75","x":0.585,"y":-0.052},{"s":"0.75","x":0.605,"y":-0.049},{"s":"0.75","x":0.625,"y":-0.047},{"s":"0.75","x":0.645,"y":-0.044},{"s":"0.75","x":0.665,"y":-0.042},{"s":"0.75","x":0.685,"y":-0.04},{"s":"0.75","x":0.705,"y":-0.038},
{"s":"0.75","x":0.725,"y":-0.036},{"s":"0.75","x":0.745,"y":-0.034},{"s":"0.75","x":0.765,"y":-0.032},{"s":"0.75","x":0.785,"y":-0.031},{"s":"0.75","x":0.805,"y":-0.029},{"s":"0.75","x":0.825,"y":-0.028},{"s":"0.75","x":0.845,"y":-0.026},{"s":"0.75","x":0.865,"y":-0.025},{"s":"0.75","x":0.885,"y":-0.024},{"s":"0.75","x":0.905,"y":-0.022},
{"s":"0.75","x":0.925,"y":-0.021},{"s":"0.75","x":0.945,"y":-0.02},{"s":"0.75","x":0.965,"y":-0.019},{"s":"0.75","x":0.985,"y":-0.018},{"s":"0.75","x":1,"y":-0.017},
{"s":"0.90","x":0.125,"y":-0.267},{"s":"0.90","x":0.145,"y":-0.24},{"s":"0.90","x":0.165,"y":-0.218},{"s":"0.90","x":0.185,"y":-0.2},{"s":"0.90","x":0.205,"y":-0.185},{"s":"0.90","x":0.225,"y":-0.171},{"s":"0.90","x":0.245,"y":-0.158},{"s":"0.90","x":0.265,"y":-0.147},{"s":"0.90","x":0.285,"y":-0.137},{"s":"0.90","x":0.305,"y":-0.128},
{"s":"0.90","x":0.325,"y":-0.12},{"s":"0.90","x":0.345,"y":-0.113},{"s":"0.90","x":0.365,"y":-0.106},{"s":"0.90","x":0.385,"y":-0.099},{"s":"0.90","x":0.405,"y":-0.093},{"s":"0.90","x":0.425,"y":-0.088},{"s":"0.90","x":0.445,"y":-0.083},{"s":"0.90","x":0.465,"y":-0.078},{"s":"0.90","x":0.485,"y":-0.074},{"s":"0.90","x":0.505,"y":-0.07},
{"s":"0.90","x":0.525,"y":-0.066},{"s":"0.90","x":0.545,"y":-0.062},{"s":"0.90","x":0.565,"y":-0.059},{"s":"0.90","x":0.585,"y":-0.056},{"s":"0.90","x":0.605,"y":-0.053},{"s":"0.90","x":0.625,"y":-0.05},{"s":"0.90","x":0.645,"y":-0.048},{"s":"0.90","x":0.665,"y":-0.045},{"s":"0.90","x":0.685,"y":-0.043},{"s":"0.90","x":0.705,"y":-0.041},
{"s":"0.90","x":0.725,"y":-0.046},{"s":"0.90","x":0.745,"y":-0.038},{"s":"0.90","x":0.765,"y":-0.036},{"s":"0.90","x":0.785,"y":-0.04},{"s":"0.90","x":0.805,"y":-0.033},{"s":"0.90","x":0.825,"y":-0.031},{"s":"0.90","x":0.845,"y":-0.03},{"s":"0.90","x":0.865,"y":-0.028},{"s":"0.90","x":0.885,"y":-0.027},{"s":"0.90","x":0.905,"y":-0.026},
{"s":"0.90","x":0.925,"y":-0.025},{"s":"0.90","x":0.945,"y":-0.024},{"s":"0.90","x":0.965,"y":-0.017},{"s":"0.90","x":0.985,"y":-0.022},{"s":"0.90","x":1,"y":-0.021}
]
},
"vconcat":[
{"hconcat":[
 {"width":263,"height":367,"title":{"text":"A","dx":-58},"data":{"name":"A1"},
  "encoding":{
   "x":{"field":"x","type":"quantitative","scale":{"domain":[0,1],"nice":false},"axis":{"values":[0,0.1,0.2,0.3,0.4,0.5,0.6,0.7,0.8,0.9,1],"labelExpr":"round(datum.value*10)%2==0 ? format(datum.value,'.1f') : ''","tickSize":{"condition":{"test":"round(datum.value*10)%2==0","value":6},"value":3},"title":"T₂","titlePadding":0}},
   "y":{"field":"y","type":"quantitative","scale":{"domain":[0,1.1],"nice":false},"axis":{"values":[0,0.1,0.2,0.3,0.4,0.5,0.6,0.7,0.8,0.9,1],"labelExpr":"round(datum.value*10)%2==0 ? format(datum.value,'.1f') : ''","tickSize":{"condition":{"test":"round(datum.value*10)%2==0","value":6},"value":3},"title":"n*","titleX":-31,"titleY":193}}
  },
  "layer":[
   {"mark":{"type":"line","strokeWidth":1.8,"clip":true},"encoding":{"color":{"field":"s","type":"nominal","scale":{"domain":["0.15","0.30","0.50","0.75","0.90"],"range":["#000000","#ff0000","#0000ff","#ff00ff","#008000"]},"legend":{"title":null,"symbolType":"M-2.5,0H2.5M-0.12,-0.12H0.12V0.12H-0.12Z","legendX":129,"legendY":21,"labelExpr":"'I=' + datum.label + 'kg•m²'"}}}},
   {"mark":{"type":"point","filled":true,"size":20,"opacity":1,"clip":true},"encoding":{"color":{"field":"s","type":"nominal","legend":null},"shape":{"condition":[{"test":"datum.s==='0.15'","value":"square"},{"test":"datum.s==='0.30'","value":"circle"},{"test":"datum.s==='0.50'","value":"triangle-up"},{"test":"datum.s==='0.75'","value":"triangle-down"}],"value":"diamond"}}}
  ]},
 {"width":293,"height":367,"data":{"name":"A2"},
  "encoding":{
   "x":{"field":"x","type":"quantitative","scale":{"domain":[0,1],"nice":false},"axis":{"values":[0,0.1,0.2,0.3,0.4,0.5,0.6,0.7,0.8,0.9,1],"labelExpr":"round(datum.value*10)%2==0 ? format(datum.value,'.1f') : ''","labelOffset":-13,"tickSize":{"condition":{"test":"round(datum.value*10)%2==0","value":6},"value":3},"title":"T₂","titlePadding":-6,"titleX":139}},
   "y":{"field":"y","type":"quantitative","scale":{"domain":[-0.5,0.05],"nice":false},"axis":{"values":[-0.5,-0.45,-0.4,-0.35,-0.3,-0.25,-0.2,-0.15,-0.1,-0.05,0],"labelExpr":"round(datum.value*20)%2==0 ? replace(format(datum.value,'.1f'),'−','-') : ''","tickSize":{"condition":{"test":"round(datum.value*20)%2==0","value":6},"value":3},"title":"νₙ","titleX":-34,"titleY":191}}
  },
  "layer":[
   {"mark":{"type":"line","strokeWidth":1.8,"clip":true},"encoding":{"color":{"field":"s","type":"nominal","scale":{"domain":["0.15","0.30","0.50","0.75","0.90"],"range":["#000000","#ff0000","#0000ff","#ff00ff","#008000"]},"legend":{"title":null,"symbolType":"M-2.5,0H2.5M-0.12,-0.12H0.12V0.12H-0.12Z","legendX":141,"legendY":141,"labelExpr":"'I=' + datum.label + 'kg•m²'"}}}},
   {"mark":{"type":"point","filled":true,"size":20,"opacity":1,"clip":true},"encoding":{"color":{"field":"s","type":"nominal","legend":null},"shape":{"condition":[{"test":"datum.s==='0.15'","value":"square"},{"test":"datum.s==='0.30'","value":"circle"},{"test":"datum.s==='0.50'","value":"triangle-up"},{"test":"datum.s==='0.75'","value":"triangle-down"}],"value":"diamond"}}}
  ]}
 ],"spacing":10,"resolve":{"scale":{"color":"independent"},"legend":{"color":"independent"}}},
{"hconcat":[
 {"width":279,"height":376,"title":{"text":"B","dx":-58},"data":{"name":"B1"},
  "encoding":{
   "x":{"field":"x","type":"quantitative","scale":{"domain":[0,1],"nice":false},"axis":{"values":[0,0.1,0.2,0.3,0.4,0.5,0.6,0.7,0.8,0.9,1],"labelExpr":"round(datum.value*10)%2==0 ? format(datum.value,'.1f') : ''","tickSize":{"condition":{"test":"round(datum.value*10)%2==0","value":6},"value":3},"title":"T₂","titlePadding":0}},
   "y":{"field":"y","type":"quantitative","scale":{"domain":[0,1.1],"nice":false},"axis":{"values":[0,0.1,0.2,0.3,0.4,0.5,0.6,0.7,0.8,0.9,1],"labelExpr":"round(datum.value*10)%2==0 ? format(datum.value,'.1f') : ''","tickSize":{"condition":{"test":"round(datum.value*10)%2==0","value":6},"value":3},"title":"Q*","titleX":-37,"titleY":174}}
  },
  "layer":[
   {"mark":{"type":"line","strokeWidth":1.8,"clip":true},"encoding":{"color":{"field":"s","type":"nominal","scale":{"domain":["0.15","0.30","0.50","0.75","0.90"],"range":["#000000","#ff0000","#0000ff","#ff00ff","#008000"]},"legend":{"title":null,"symbolType":"M-2.5,0H2.5M-0.12,-0.12H0.12V0.12H-0.12Z","legendX":132,"legendY":25,"labelExpr":"'I=' + datum.label + 'kg•m²'"}}}},
   {"mark":{"type":"point","filled":true,"size":20,"opacity":1,"clip":true},"encoding":{"color":{"field":"s","type":"nominal","legend":null},"shape":{"condition":[{"test":"datum.s==='0.15'","value":"square"},{"test":"datum.s==='0.30'","value":"circle"},{"test":"datum.s==='0.50'","value":"triangle-up"},{"test":"datum.s==='0.75'","value":"triangle-down"}],"value":"diamond"}}}
  ]},
 {"width":285,"height":378,"data":{"name":"B2"},
  "encoding":{
   "x":{"field":"x","type":"quantitative","scale":{"domain":[0,1],"nice":false},"axis":{"values":[0,0.1,0.2,0.3,0.4,0.5,0.6,0.7,0.8,0.9,1],"labelExpr":"round(datum.value*10)%2==0 ? format(datum.value,'.1f') : ''","labelOffset":-11,"tickSize":{"condition":{"test":"round(datum.value*10)%2==0","value":6},"value":3},"title":"T₂","titlePadding":0,"titleX":138}},
   "y":{"field":"y","type":"quantitative","scale":{"domain":[-0.5,0.05],"nice":false},"axis":{"values":[-0.5,-0.45,-0.4,-0.35,-0.3,-0.25,-0.2,-0.15,-0.1,-0.05,0],"labelExpr":"round(datum.value*20)%2==0 ? replace(format(datum.value,'.1f'),'−','-') : ''","tickSize":{"condition":{"test":"round(datum.value*20)%2==0","value":6},"value":3},"title":"νQ","titleX":-41,"titleY":207}}
  },
  "layer":[
   {"mark":{"type":"line","strokeWidth":1.8,"clip":true},"encoding":{"color":{"field":"s","type":"nominal","scale":{"domain":["0.15","0.30","0.50","0.75","0.90"],"range":["#000000","#ff0000","#0000ff","#ff00ff","#008000"]},"legend":{"title":null,"symbolType":"M-2.5,0H2.5M-0.12,-0.12H0.12V0.12H-0.12Z","legendX":118,"legendY":131,"labelExpr":"'I=' + datum.label + 'kg•m²'"}}}},
   {"mark":{"type":"point","filled":true,"size":20,"opacity":1,"clip":true},"encoding":{"color":{"field":"s","type":"nominal","legend":null},"shape":{"condition":[{"test":"datum.s==='0.15'","value":"square"},{"test":"datum.s==='0.30'","value":"circle"},{"test":"datum.s==='0.50'","value":"triangle-up"},{"test":"datum.s==='0.75'","value":"triangle-down"}],"value":"diamond"}}}
  ]}
 ],"spacing":-4,"resolve":{"scale":{"color":"independent"},"legend":{"color":"independent"}}},
{"hconcat":[
 {"width":273,"height":369,"title":{"text":"C","dx":-58},"data":{"name":"C1"},
  "encoding":{
   "x":{"field":"x","type":"quantitative","scale":{"domain":[0,1],"nice":false},"axis":{"values":[0,0.1,0.2,0.3,0.4,0.5,0.6,0.7,0.8,0.9,1],"labelExpr":"round(datum.value*10)%2==0 ? format(datum.value,'.1f') : ''","tickSize":{"condition":{"test":"round(datum.value*10)%2==0","value":6},"value":3},"title":"T₂","titlePadding":-6}},
   "y":{"field":"y","type":"quantitative","scale":{"domain":[0,1.1],"nice":false},"axis":{"values":[0,0.1,0.2,0.3,0.4,0.5,0.6,0.7,0.8,0.9,1],"labelExpr":"round(datum.value*10)%2==0 ? format(datum.value,'.1f') : ''","tickSize":{"condition":{"test":"round(datum.value*10)%2==0","value":6},"value":3},"title":"H*","titleX":-37,"titleY":200}}
  },
  "layer":[
   {"mark":{"type":"line","strokeWidth":1.8,"clip":true},"encoding":{"color":{"field":"s","type":"nominal","scale":{"domain":["0.15","0.30","0.50","0.75","0.90"],"range":["#000000","#ff0000","#0000ff","#ff00ff","#008000"]},"legend":{"title":null,"symbolType":"M-2.5,0H2.5M-0.12,-0.12H0.12V0.12H-0.12Z","legendX":106,"legendY":63,"labelExpr":"'I=' + datum.label + 'kg•m²'"}}}},
   {"mark":{"type":"point","filled":true,"size":20,"opacity":1,"clip":true},"encoding":{"color":{"field":"s","type":"nominal","legend":null},"shape":{"condition":[{"test":"datum.s==='0.15'","value":"square"},{"test":"datum.s==='0.30'","value":"circle"},{"test":"datum.s==='0.50'","value":"triangle-up"},{"test":"datum.s==='0.75'","value":"triangle-down"}],"value":"diamond"}}}
  ]},
 {"width":291,"height":366,"data":{"name":"C2"},
  "encoding":{
   "x":{"field":"x","type":"quantitative","scale":{"domain":[0,1],"nice":false},"axis":{"values":[0,0.1,0.2,0.3,0.4,0.5,0.6,0.7,0.8,0.9,1],"labelExpr":"round(datum.value*10)%2==0 ? format(datum.value,'.1f') : ''","labelOffset":-11,"tickSize":{"condition":{"test":"round(datum.value*10)%2==0","value":6},"value":3},"title":"T₂","titlePadding":-6,"titleX":143}},
   "y":{"field":"y","type":"quantitative","scale":{"domain":[-0.8,0.1],"nice":false},"axis":{"values":[-0.8,-0.7,-0.6,-0.5,-0.4,-0.3,-0.2,-0.1,0,0.1],"labelExpr":"round(datum.value*10)%2==0 ? replace(format(datum.value,'.1f'),'−','-') : ''","tickSize":{"condition":{"test":"round(datum.value*10)%2==0","value":6},"value":3},"title":"νH","titleX":-38,"titleY":173}}
  },
  "layer":[
   {"mark":{"type":"line","strokeWidth":1.8,"clip":true},"encoding":{"color":{"field":"s","type":"nominal","scale":{"domain":["0.15","0.30","0.50","0.75","0.90"],"range":["#000000","#ff0000","#0000ff","#ff00ff","#008000"]},"legend":{"title":null,"symbolType":"M-2.5,0H2.5M-0.12,-0.12H0.12V0.12H-0.12Z","legendX":105,"legendY":138,"labelExpr":"'I=' + datum.label + 'kg•m²'"}}}},
   {"mark":{"type":"point","filled":true,"size":20,"opacity":1,"clip":true},"encoding":{"color":{"field":"s","type":"nominal","legend":null},"shape":{"condition":[{"test":"datum.s==='0.15'","value":"square"},{"test":"datum.s==='0.30'","value":"circle"},{"test":"datum.s==='0.50'","value":"triangle-up"},{"test":"datum.s==='0.75'","value":"triangle-down"}],"value":"diamond"}}}
  ]}
 ],"spacing":-2,"resolve":{"scale":{"color":"independent"},"legend":{"color":"independent"}}}
]
}
